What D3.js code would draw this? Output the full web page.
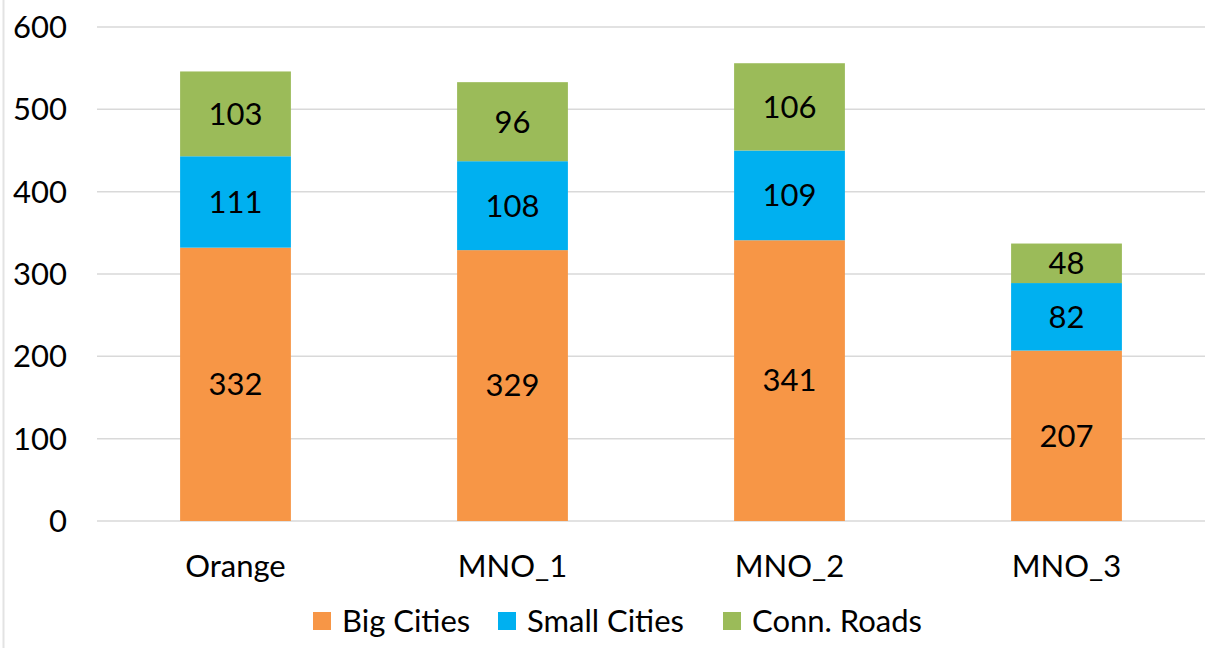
<!DOCTYPE html>
<html>
<head>
<meta charset="utf-8">
<script src="https://cdn.jsdelivr.net/npm/d3@7"></script>
<style>
  body { margin: 0; background: #fff; }
  text { font-family: Lato, "Open Sans", sans-serif; fill: #000; }
</style>
</head>
<body>
<script>
var width = 1216;
var height = 648;
var fontSize = "31px";

// data
var operators = ["Orange", "MNO_1", "MNO_2", "MNO_3"];
var seriesNames = ["Big Cities", "Small Cities", "Conn. Roads"];
var bigCities = [332, 329, 341, 207];
var smallCities = [111, 108, 109, 82];
var connRoads = [103, 96, 106, 48];
var yTicks = [0, 100, 200, 300, 400, 500, 600];
var colors = ["#F79646", "#00B0F0", "#9BBB59"];

var rows = operators.map(function (op, i) {
    return { op: op, "Big Cities": bigCities[i], "Small Cities": smallCities[i], "Conn. Roads": connRoads[i] };
});

var svg = d3.select("body").append("svg")
    .attr("width", width)
    .attr("height", height);

svg.append("rect")
    .attr("width", width)
    .attr("height", height)
    .attr("fill", "#fff");

// faint frame edge at left
svg.append("line")
    .attr("x1", 3.5).attr("x2", 3.5)
    .attr("y1", 0).attr("y2", height)
    .attr("stroke", "#e3e3e3")
    .attr("stroke-width", 2);

var x = d3.scaleBand()
    .domain(operators)
    .range([97, 1205])
    .paddingInner(0.6)
    .paddingOuter(0.3);

var y = d3.scaleLinear()
    .domain([0, 600])
    .range([521, 27]);

// gridlines
svg.append("g").selectAll("line").data(yTicks).enter().append("line")
    .attr("x1", 97)
    .attr("x2", 1205)
    .attr("y1", function (d) { return y(d); })
    .attr("y2", function (d) { return y(d); })
    .attr("stroke", "#d9d9d9")
    .attr("stroke-width", 1.5);

// y tick labels
svg.append("g").selectAll("text").data(yTicks).enter().append("text")
    .attr("x", 67)
    .attr("y", function (d) { return y(d); })
    .attr("dy", "0.35em")
    .attr("text-anchor", "end")
    .style("font-size", fontSize)
    .text(function (d) { return d; });

var stack = d3.stack().keys(seriesNames);
var layers = stack(rows);

var groups = svg.append("g").selectAll("g").data(layers).enter().append("g")
    .attr("fill", function (d, i) { return colors[i]; });

groups.selectAll("rect").data(function (d) { return d; }).enter().append("rect")
    .attr("x", function (d) { return x(d.data.op); })
    .attr("width", x.bandwidth())
    .attr("y", function (d) { return y(d[1]); })
    .attr("height", function (d) { return y(d[0]) - y(d[1]); });

groups.selectAll("text").data(function (d) { return d; }).enter().append("text")
    .attr("x", function (d) { return x(d.data.op) + x.bandwidth() / 2; })
    .attr("y", function (d) { return (y(d[0]) + y(d[1])) / 2; })
    .attr("dy", "0.35em")
    .attr("text-anchor", "middle")
    .style("font-size", fontSize)
    .text(function (d) { return d[1] - d[0]; });

// category labels
svg.append("g").selectAll("text").data(operators).enter().append("text")
    .attr("x", function (d) { return x(d) + x.bandwidth() / 2; })
    .attr("y", 566)
    .attr("dy", "0.35em")
    .attr("text-anchor", "middle")
    .style("font-size", fontSize)
    .text(function (d) { return d; });

// legend
var legendX = [313, 498, 723];
var legend = svg.append("g").selectAll("g").data(seriesNames).enter().append("g")
    .attr("transform", function (d, i) { return "translate(" + legendX[i] + ",621)"; });

legend.append("rect")
    .attr("x", 0)
    .attr("y", -9)
    .attr("width", 18)
    .attr("height", 18)
    .attr("fill", function (d, i) { return colors[i]; });

legend.append("text")
    .attr("x", 29)
    .attr("y", 0)
    .attr("dy", "0.35em")
    .style("font-size", fontSize)
    .text(function (d) { return d; });
</script>
</body>
</html>
